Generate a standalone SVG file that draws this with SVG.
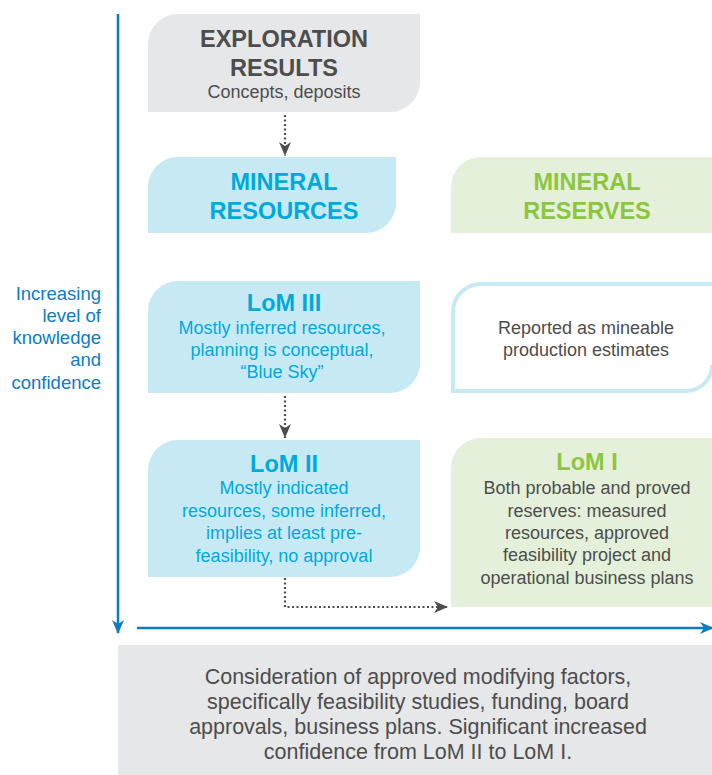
<svg xmlns="http://www.w3.org/2000/svg" width="712" height="775" viewBox="0 0 712 775">
<defs>
<style>
text{font-family:"Liberation Sans",Arial,sans-serif;text-anchor:middle}
.h{font-weight:bold;font-size:23.5px}
.t{font-weight:bold;font-size:23.5px}
.b{font-size:18px}
.l{font-size:18.5px;fill:#0b7dc3;text-anchor:end}
.n{font-size:21.5px;fill:#4d4d4d}
.gray{fill:#4d4d4d}
.cyan{fill:#00a9dc}
.green{fill:#8cc63f}
.axis{stroke:#0b7dc3;stroke-width:2.5;fill:none}
.dot{stroke:#4d4d4d;stroke-width:2.2;stroke-dasharray:2 2.5;fill:none}
</style>
<marker id="ah" viewBox="0 0 14 12" refX="14" refY="6" markerWidth="14" markerHeight="12" orient="auto" markerUnits="userSpaceOnUse"><path d="M0,0 L14,6 L0,12 L4,6 Z" fill="#4d4d4d"/></marker>
<marker id="ab" viewBox="0 0 14 12" refX="13" refY="6" markerWidth="14" markerHeight="12" orient="auto" markerUnits="userSpaceOnUse"><path d="M0,0 L14,6 L0,12 L4,6 Z" fill="#0b7dc3"/></marker>
</defs>
<g id="axes">
<line class="axis" x1="118" y1="14" x2="118" y2="633" marker-end="url(#ab)"/>
<line class="axis" x1="137" y1="628" x2="713" y2="628" marker-end="url(#ab)"/>
</g>
<g id="axis-label">
<text class="l" x="101" y="300">Increasing</text>
<text class="l" x="101" y="322">level of</text>
<text class="l" x="101" y="344">knowledge</text>
<text class="l" x="101" y="366">and</text>
<text class="l" x="101" y="389">confidence</text>
</g>
<g id="exploration">
<path d="M178,14 H420 V82 A30,30 0 0 1 390,112 H148 V44 A30,30 0 0 1 178,14 Z" fill="#e6e7e8"/>
<text class="h gray" x="284" y="47">EXPLORATION</text>
<text class="h gray" x="284" y="76">RESULTS</text>
<text class="b gray" x="284" y="98">Concepts, deposits</text>
</g>
<g id="mineral-resources">
<path d="M178,157 H396 V203 A30,30 0 0 1 366,233 H148 V187 A30,30 0 0 1 178,157 Z" fill="#c7e9f4"/>
<text class="h cyan" x="284" y="190">MINERAL</text>
<text class="h cyan" x="284" y="219">RESOURCES</text>
</g>
<g id="mineral-reserves">
<path d="M481,157 H712 V233 H451 V187 A30,30 0 0 1 481,157 Z" fill="#e4f0da"/>
<text class="h green" x="587" y="190">MINERAL</text>
<text class="h green" x="587" y="219">RESERVES</text>
</g>
<g id="lom3">
<path d="M178,281 H420 V363 A30,30 0 0 1 390,393 H148 V311 A30,30 0 0 1 178,281 Z" fill="#c7e9f4"/>
<text class="t cyan" x="284" y="311">LoM III</text>
<text class="b cyan" x="282" y="334">Mostly inferred resources,</text>
<text class="b cyan" x="282" y="356">planning is conceptual,</text>
<text class="b cyan" x="282" y="378">“Blue Sky”</text>
</g>
<g id="reported">
<path d="M483,284 H712 M712,365 A26,26 0 0 1 686,391 H453 V312 A28,28 0 0 1 483,284" fill="none" stroke="#c7e9f4" stroke-width="4"/>
<text class="b gray" x="586" y="334">Reported as mineable</text>
<text class="b gray" x="586" y="356">production estimates</text>
</g>
<g id="lom2">
<path d="M178,440 H420 V547 A30,30 0 0 1 390,577 H148 V470 A30,30 0 0 1 178,440 Z" fill="#c7e9f4"/>
<text class="t cyan" x="284" y="472">LoM II</text>
<text class="b cyan" x="284" y="494">Mostly indicated</text>
<text class="b cyan" x="284" y="517">resources, some inferred,</text>
<text class="b cyan" x="284" y="539">implies at least pre-</text>
<text class="b cyan" x="284" y="562">feasibility, no approval</text>
</g>
<g id="lom1">
<path d="M481,438 H712 V607 H451 V468 A30,30 0 0 1 481,438 Z" fill="#e4f0da"/>
<text class="t green" x="587" y="470">LoM I</text>
<text class="b gray" x="587" y="494">Both probable and proved</text>
<text class="b gray" x="587" y="517">reserves: measured</text>
<text class="b gray" x="587" y="539">resources, approved</text>
<text class="b gray" x="587" y="561">feasibility project and</text>
<text class="b gray" x="587" y="584">operational business plans</text>
</g>
<g id="connectors">
<path class="dot" d="M285,115 V156" marker-end="url(#ah)"/>
<path class="dot" d="M285,396 V438" marker-end="url(#ah)"/>
<path class="dot" d="M285,578 V607 H448" marker-end="url(#ah)"/>
</g>
<g id="note">
<rect x="118" y="645" width="594" height="130" fill="#e6e7e8"/>
<text class="n" x="418" y="684">Consideration of approved modifying factors,</text>
<text class="n" x="418" y="709">specifically feasibility studies, funding, board</text>
<text class="n" x="418" y="734">approvals, business plans. Significant increased</text>
<text class="n" x="418" y="759">confidence from LoM II to LoM I.</text>
</g>
</svg>
